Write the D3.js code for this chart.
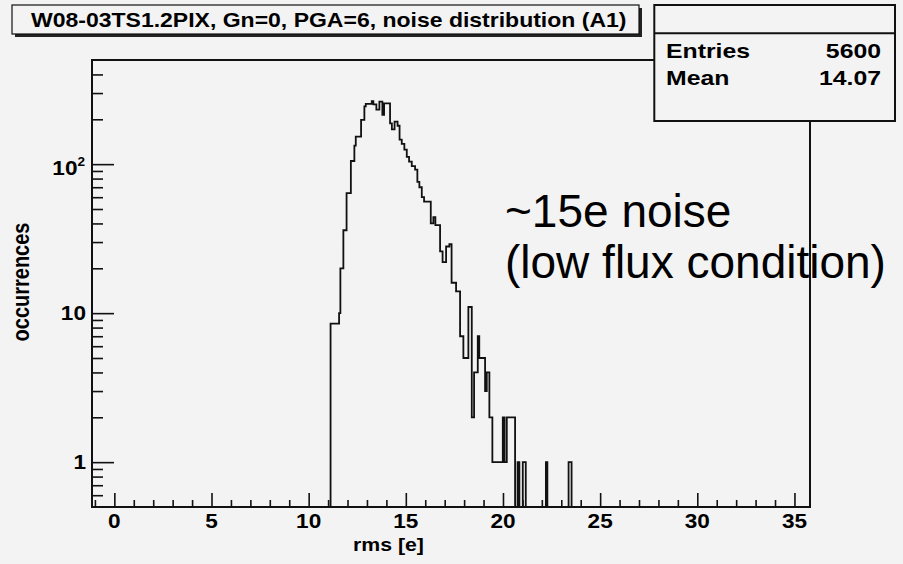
<!DOCTYPE html>
<html><head><meta charset="utf-8">
<script src="https://cdn.jsdelivr.net/npm/d3@7"></script>
<style>body{margin:0;background:#f3f3f3} svg{display:block}</style>
</head><body><svg id="c" width="903" height="564"></svg>
<script>
// ---------------- data ----------------
const titleText = "W08-03TS1.2PIX, Gn=0, PGA=6, noise distribution (A1)";
const statLabels = ["Entries", "Mean"];
const statValues = ["5600", "14.07"];
const xLabel = "rms [e]";
const yLabel = "occurrences";
const annotationLines = ["~15e noise", "(low flux condition)"];
const xDomain = [-1.15, 35.8];
const yDomain = [0.5, 500];
const xTickValues = [0, 5, 10, 15, 20, 25, 30, 35];
const yTickValues = [1, 10, 100];
// histogram step edges (rms [e]) and the count of each step between two edges
const binEdges = [11.127, 11.565, 11.632, 11.786, 11.951, 12.172, 12.352, 12.424, 12.697, 12.867,
  12.939, 13.248, 13.330, 13.484, 13.639, 13.793, 13.881, 14.189, 14.282, 14.421,
  14.575, 14.678, 14.791, 14.925, 15.049, 15.167, 15.306, 15.476, 15.594, 15.697,
  15.821, 15.939, 16.284, 16.418, 16.521, 16.763, 16.892, 17.072, 17.241, 17.355,
  17.586, 17.792, 17.962, 18.219, 18.394, 18.513, 18.703, 18.780, 19.079, 19.166,
  19.300, 19.454, 19.990, 20.082, 20.196, 20.623, 20.751, 20.844, 21.019, 21.173,
  22.208, 22.285, 23.376, 23.530];
const binCounts = [8.5, 10, 20, 36, 64, 105, 133, 153, 198, 244,
  254, 265, 252, 232, 263, 214, 256, 188, 171, 193,
  181, 146, 137, 125, 112, 104, 97, 92, 76, 70,
  60, 56, 40, 44, 39, 26, 22, 28, 29, 16,
  14, 7, 5, 11, 2, 4, 7, 5, 3, 4,
  2, 1, 2, 1, 2, 0, 1, 0, 1, 0,
  1, 0, 1];

// ---------------- layout ----------------
const W = 903, H = 564;
const F = {left: 92, top: 60, right: 810, bottom: 507};
const BG = "#f3f3f3";
const FONT = "'Liberation Sans', Arial, Helvetica, sans-serif";

const svg = d3.select("#c");
svg.append("rect").attr("width", W).attr("height", H).attr("fill", BG);

const x = d3.scaleLinear().domain(xDomain).range([F.left, F.right]);
const y = d3.scaleLog().domain(yDomain).range([F.bottom, F.top]);

// stretched bold text helper (ROOT canvas text appears horizontally stretched)
function sText(parent, tx, ty, str, size, anchor, sx, weight) {
  return parent.append("text")
    .attr("transform", `translate(${tx},${ty}) scale(${sx},1)`)
    .attr("text-anchor", anchor)
    .attr("font-family", FONT)
    .attr("font-weight", weight || "bold")
    .attr("font-size", size)
    .attr("fill", "#000")
    .text(str);
}

// ---------------- histogram ----------------
svg.append("clipPath").attr("id", "fr").append("rect")
  .attr("x", F.left).attr("y", F.top).attr("width", F.right - F.left).attr("height", F.bottom - F.top);

const yv = c => c > 0 ? y(c) : F.bottom + 2;
const pts = [[x(binEdges[0]), F.bottom + 2]];
binCounts.forEach((c, i) => {
  pts.push([x(binEdges[i]), yv(c)]);
  pts.push([x(binEdges[i + 1]), yv(c)]);
});
pts.push([x(binEdges[binEdges.length - 1]), F.bottom + 2]);
svg.append("path")
  .attr("clip-path", "url(#fr)")
  .attr("d", d3.line()(pts))
  .attr("fill", "none").attr("stroke", "#111").attr("stroke-width", 1.8)
  .attr("stroke-linejoin", "miter");

// ---------------- axes ----------------
const gx = svg.append("g").attr("transform", `translate(0,${F.bottom})`);
gx.call(d3.axisBottom(x).tickValues(xTickValues).tickSizeInner(-14).tickSizeOuter(0).tickFormat(""));
const xMinor = d3.range(Math.ceil(xDomain[0]), Math.floor(xDomain[1]) + 1).filter(v => v % 5 !== 0);
gx.append("g").call(d3.axisBottom(x).tickValues(xMinor).tickSizeInner(-7).tickSizeOuter(0).tickFormat(""));
gx.selectAll("path.domain").remove();
gx.selectAll("line").attr("stroke", "#111").attr("stroke-width", 1.6);

xTickValues.forEach(v => sText(svg, x(v), 527.5, String(v), 20, "middle", 1.13));

const gy = svg.append("g").attr("transform", `translate(${F.left},0)`);
gy.call(d3.axisLeft(y).tickValues(yTickValues).tickSizeInner(-22).tickSizeOuter(0).tickFormat(""));
const yMinor = [];
[0.1, 1, 10, 100].forEach(d => { for (let k = 2; k <= 9; k++) { const v = k * d; if (v > yDomain[0] && v < yDomain[1]) yMinor.push(v); } });
gy.append("g").call(d3.axisLeft(y).tickValues(yMinor).tickSizeInner(-11).tickSizeOuter(0).tickFormat(""));
gy.selectAll("path.domain").remove();
gy.selectAll("line").attr("stroke", "#111").attr("stroke-width", 1.6);

// y tick labels
sText(svg, 86, y(1) + 6.5, "1", 20, "end", 1.13);
sText(svg, 86, y(10) + 7, "10", 20, "end", 1.13);
const t100 = sText(svg, 85, y(100) + 11, "", 20, "end", 1.13);
t100.append("tspan").text("10");
t100.append("tspan").attr("font-size", 12).attr("dy", -9).text("2");

// frame
svg.append("rect").attr("x", F.left).attr("y", F.top)
  .attr("width", F.right - F.left).attr("height", F.bottom - F.top)
  .attr("fill", "none").attr("stroke", "#111").attr("stroke-width", 2);

// axis titles
sText(svg, 388.5, 551, xLabel, 19, "middle", 1.12);
svg.append("text")
  .attr("transform", `translate(29,282) scale(1.2,1) rotate(-90)`)
  .attr("text-anchor", "middle").attr("font-family", FONT).attr("font-weight", "bold")
  .attr("font-size", 20).text(yLabel);

// ---------------- title box ----------------
svg.append("rect").attr("x", 15).attr("y", 8).attr("width", 627).attr("height", 29).attr("fill", "#222");
svg.append("rect").attr("x", 12).attr("y", 5).attr("width", 627).attr("height", 29)
  .attr("fill", BG).attr("stroke", "#111").attr("stroke-width", 1.2);
sText(svg, 31, 27, titleText, 20, "start", 1.15);

// ---------------- stats box ----------------
svg.append("rect").attr("x", 654.3).attr("y", 5).attr("width", 240.7).attr("height", 116)
  .attr("fill", BG).attr("stroke", "#111").attr("stroke-width", 2);
svg.append("line").attr("x1", 654.3).attr("x2", 895).attr("y1", 33.3).attr("y2", 33.3)
  .attr("stroke", "#111").attr("stroke-width", 2);
const statY = [57.5, 85];
statLabels.forEach((s, i) => sText(svg, 666, statY[i], s, 20, "start", 1.24));
statValues.forEach((s, i) => sText(svg, 881, statY[i], s, 20, "end", 1.24));

// ---------------- annotation ----------------
annotationLines.forEach((s, i) => {
  svg.append("text").attr("x", 505).attr("y", [227, 278][i])
    .attr("font-family", FONT).attr("font-size", 46).attr("fill", "#000").text(s);
});
</script>
</body></html>
